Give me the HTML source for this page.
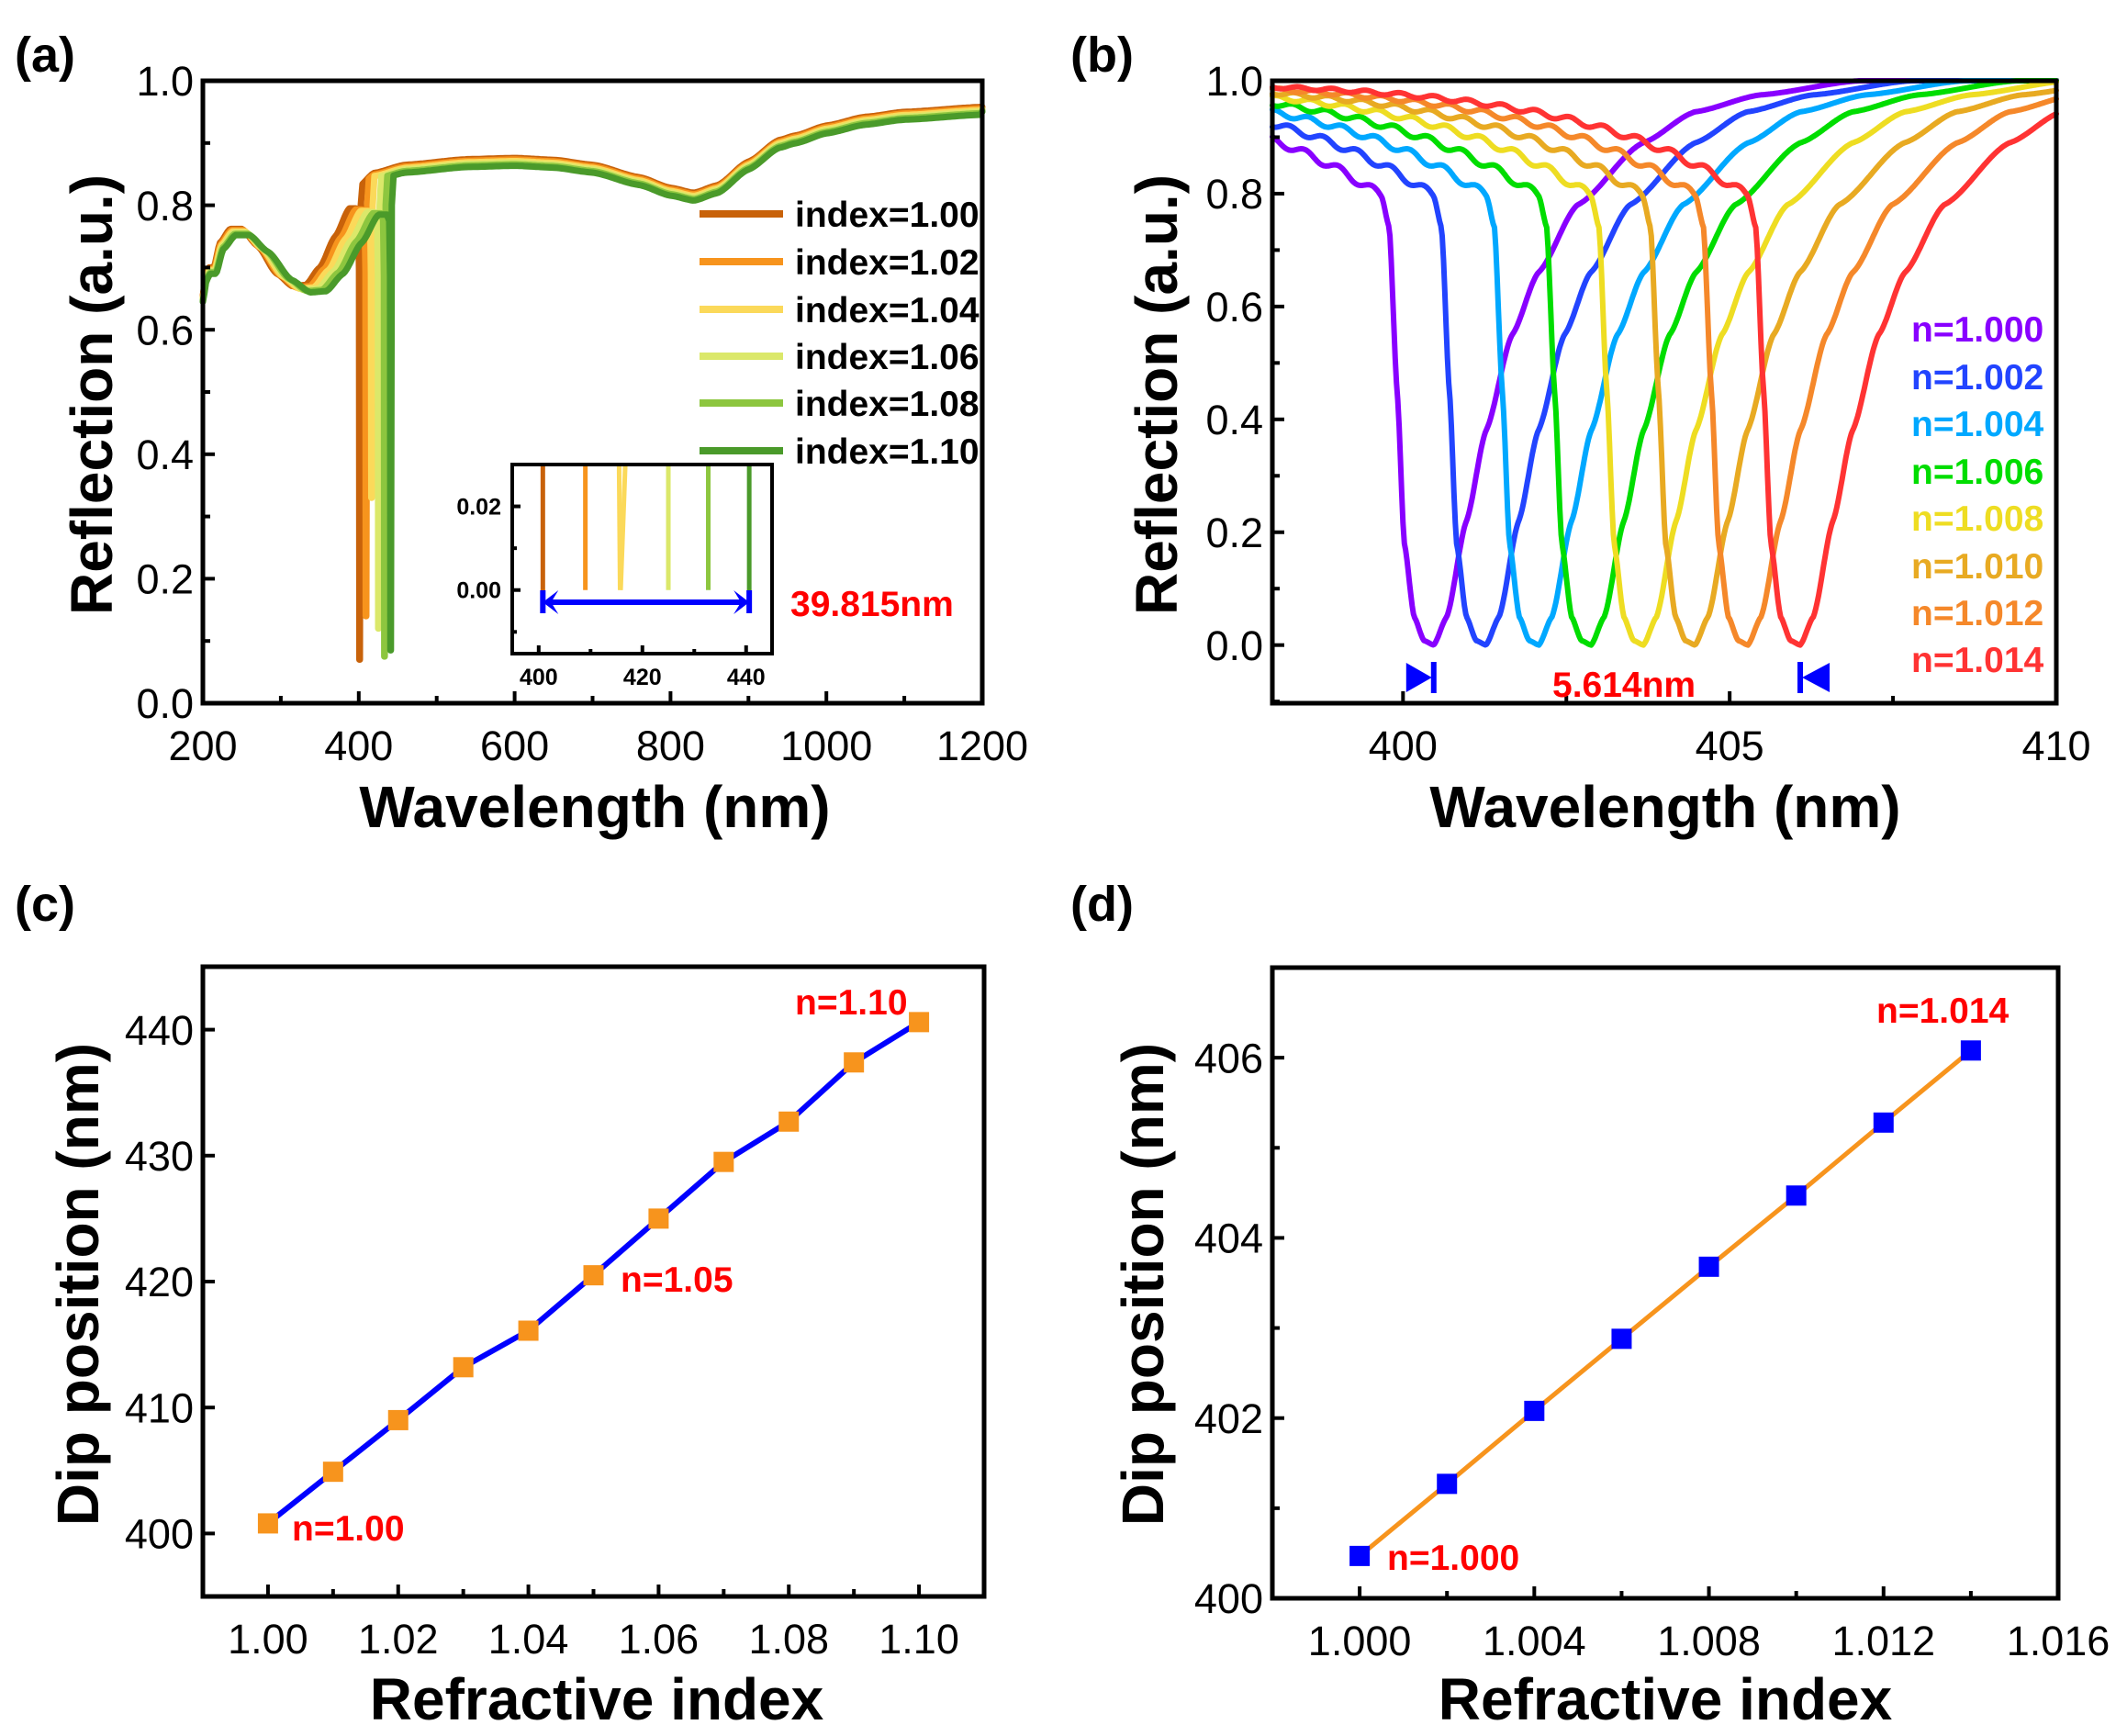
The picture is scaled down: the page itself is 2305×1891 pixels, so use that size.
<!DOCTYPE html>
<html><head><meta charset="utf-8">
<style>
html,body{margin:0;padding:0;background:#fff;}
svg{display:block;}
text{font-family:"Liberation Sans",Arial,sans-serif;}
</style></head>
<body>
<svg id="s" width="2305" height="1891" viewBox="0 0 2305 1891" xmlns="http://www.w3.org/2000/svg"></svg>
<script>
const S=document.getElementById('s');
let out='';
function add(t){out+=t;}
function lerpPts(pts,x){
  if(x<=pts[0][0])return pts[0][1];
  for(let i=1;i<pts.length;i++){if(x<=pts[i][0]){const a=pts[i-1],b=pts[i];const t=(x-a[0])/(b[0]-a[0]);const s=t*t*(3-2*t);return a[1]+(b[1]-a[1])*(0.5*t+0.5*s);}}
  return pts[pts.length-1][1];
}
function mk(px0,px1,py0,py1,xr,yr){
  return {X:v=>px0+(v-xr[0])/(xr[1]-xr[0])*(px1-px0),Y:v=>py1-(v-yr[0])/(yr[1]-yr[0])*(py1-py0),px0,px1,py0,py1};
}
function frame(A,xmaj,xmin,ymaj,ymin,fs,xlOff,ylOff,lw,bold,tl,ml){
  tl=tl||13;ml=ml||8;
  let t='';
  xmaj.forEach(v=>{const x=A.X(v[0]);t+=`<line x1="${x}" y1="${A.py1}" x2="${x}" y2="${A.py1-tl}" stroke="#000" stroke-width="4"/>`;
    t+=`<text x="${x}" y="${A.py1+xlOff}" font-size="${fs}" text-anchor="middle" ${bold?'font-weight="bold"':''}>${v[1]}</text>`;});
  xmin.forEach(v=>{const x=A.X(v);t+=`<line x1="${x}" y1="${A.py1}" x2="${x}" y2="${A.py1-ml}" stroke="#000" stroke-width="4"/>`;});
  ymaj.forEach(v=>{const y=A.Y(v[0]);t+=`<line x1="${A.px0}" y1="${y}" x2="${A.px0+tl}" y2="${y}" stroke="#000" stroke-width="4"/>`;
    t+=`<text x="${A.px0-ylOff}" y="${y+fs*0.36}" font-size="${fs}" text-anchor="end" ${bold?'font-weight="bold"':''}>${v[1]}</text>`;});
  ymin.forEach(v=>{const y=A.Y(v);t+=`<line x1="${A.px0}" y1="${y}" x2="${A.px0+ml}" y2="${y}" stroke="#000" stroke-width="4"/>`;});
  t+=`<rect x="${A.px0}" y="${A.py0}" width="${A.px1-A.px0}" height="${A.py1-A.py0}" fill="none" stroke="#000" stroke-width="${lw}"/>`;
  return t;
}
function path(A,pts,col,w){
  let d='';pts.forEach((p,i)=>{d+=(i?'L':'M')+A.X(p[0]).toFixed(1)+' '+A.Y(p[1]).toFixed(1);});
  return `<path d="${d}" fill="none" stroke="${col}" stroke-width="${w}" stroke-linejoin="round" stroke-linecap="round"/>`;
}
function lab(x,y,s){return `<text x="${x}" y="${y}" font-size="54" font-weight="bold">${s}</text>`;}

/* ---------- (a) ---------- */
const A=mk(221,1070,88,766,[200,1200],[0,1]);
const aCols=['#c8620a','#f7941d','#fbd95a','#dbe86a','#8dc63f','#4a9a2a'];
const aDips=[400.8,409,416.1,425,432.7,440.6];
const aBot=[0.07,0.14,0.33,0.12,0.075,0.085];
const pre=[[200,0.655],[204,0.69],[208,0.70],[214,0.70],[222,0.74],[235,0.762],[250,0.762],[270,0.735],[295,0.69],[315,0.67],[332,0.672],[350,0.70],[370,0.75],[388,0.795]];
const post=[[0,0.83],[20,0.852],[60,0.865],[140,0.874],[200,0.876],[250,0.873],[300,0.865],[360,0.845],[400,0.828],[430,0.82],[460,0.832],[500,0.87],[540,0.905],[560,0.912],[600,0.928],[650,0.942],[700,0.95],[800,0.958]];
let aPaths='';
for(let k=0;k<=5;k++){
  const D=aDips[k],sh=0.6*(D-400.8);
  const pts=[];
  for(let x=200;x<=D-4;x+=2){
    const xx=200+(x-200)/(1+sh/120);
    pts.push([x,lerpPts(pre,xx)-0.002*k]);
  }
  const pk=pts[pts.length-1][1];
  pts.push([D-1.5,pk-0.01]);pts.push([D-0.4,pk-0.1]);pts.push([D,aBot[k]]);
  pts.push([D+0.6,aBot[k]]);pts.push([D+1.8,0.8]);
  for(let x=D+4;x<=1200;x+=3){
    const u=x-400;pts.push([x,lerpPts(post,u)-0.0025*k]);
  }
  pts.push([1200,0.958-0.0015*k]);
  aPaths+=path(A,pts,aCols[k],7);
}
add(aPaths);
add(frame(A,[[200,'200'],[400,'400'],[600,'600'],[800,'800'],[1000,'1000'],[1200,'1200']],[300,500,700,900,1100],
 [[0,'0.0'],[0.2,'0.2'],[0.4,'0.4'],[0.6,'0.6'],[0.8,'0.8'],[1.0,'1.0']],[0.1,0.3,0.5,0.7,0.9],45,62,10,5,false));
const aLeg=['index=1.00','index=1.02','index=1.04','index=1.06','index=1.08','index=1.10'];
const aLy=[233,285,337,388,439,491];
aLeg.forEach((s,i)=>{add(`<line x1="762" y1="${aLy[i]}" x2="853" y2="${aLy[i]}" stroke="${aCols[i]}" stroke-width="8"/>`);
 add(`<text x="866" y="${aLy[i]+14}" font-size="39" font-weight="bold">${s}</text>`);});
// inset
const I=mk(558,841,506,712,[394.9,445],[-0.0152,0.03]);
add(`<rect x="558" y="506" width="283" height="206" fill="#fff"/>`);
aDips.forEach((D,k)=>{
  if(k==2){add(`<line x1="${I.X(D-0.6)}" y1="${I.Y(0.03)}" x2="${I.X(D-0.4)}" y2="${I.Y(0)}" stroke="${aCols[k]}" stroke-width="5"/>`);
    add(`<line x1="${I.X(D+0.6)}" y1="${I.Y(0.03)}" x2="${I.X(D-0.3)}" y2="${I.Y(0)}" stroke="${aCols[k]}" stroke-width="5"/>`);}
  else add(`<line x1="${I.X(D)}" y1="${I.Y(0.03)}" x2="${I.X(D)}" y2="${I.Y(k==0||k==5?-0.003:0)}" stroke="${aCols[k]}" stroke-width="5"/>`);
});
add(`<line x1="${I.X(401.5)}" y1="656" x2="${I.X(439.5)}" y2="656" stroke="#0000ff" stroke-width="6"/>`);
add(`<line x1="${I.X(400.8)}" y1="643" x2="${I.X(400.8)}" y2="668" stroke="#0000ff" stroke-width="6"/>`);
add(`<line x1="${I.X(440.6)}" y1="643" x2="${I.X(440.6)}" y2="668" stroke="#0000ff" stroke-width="6"/>`);
add(`<polygon points="${I.X(400.8)},656 ${I.X(403.8)},643 ${I.X(402.4)},656 ${I.X(403.8)},669" fill="#0000ff"/>`);
add(`<polygon points="${I.X(440.6)},656 ${I.X(437.6)},643 ${I.X(439)},656 ${I.X(437.6)},669" fill="#0000ff"/>`);
add(frame(I,[[400,'400'],[420,'420'],[440,'440']],[410,430],[[0,'0.00'],[0.02,'0.02']],[-0.01,0.01],25,34,12,4,true,9,5));
add(`<text x="861" y="671" font-size="39" font-weight="bold" fill="#ff0000">39.815nm</text>`);
add(`<text x="648" y="901" font-size="64" font-weight="bold" text-anchor="middle">Wavelength (nm)</text>`);
add(`<text transform="translate(122,430) rotate(-90)" font-size="64" font-weight="bold" text-anchor="middle">Reflection (a.u.)</text>`);
add(lab(16,78,'(a)'));

/* ---------- (b) ---------- */
const B=mk(1386,2240,88,766,[398,410],[-0.103,1.0]);
const bCols=['#8800ff','#2244ff','#00a8ff','#00dd00','#eedd22','#e8aa22','#f5882a','#ff3333'];
const bDips=[400.47,401.27,402.08,402.88,403.68,404.47,405.28,406.08];
const drop=[[-0.8,0.795],[-0.68,0.74],[-0.56,0.45],[-0.45,0.18],[-0.3,0.05],[-0.15,0.008],[0,0]];
const rise=[[0,0],[0.2,0.05],[0.5,0.22],[0.8,0.38],[1.2,0.55],[1.6,0.66],[2.2,0.78],[3.2,0.89],[4,0.945],[5,0.975],[6.5,1.0],[20,1.0]];
let bP='';
bDips.forEach((D,k)=>{
  const pts=[];
  for(let x=398;x<=410.001;x+=0.02){
    const d=x-D;let y;
    if(d<-0.8){y=1-0.205*Math.exp((d+0.8)/2.5);y-=0.008*Math.sin(2*Math.PI*(d+0.8)/0.52)*Math.exp((d+0.8)/6);}
    else if(d<=0)y=lerpPts(drop,d);
    else y=lerpPts(rise,d);
    pts.push([x,Math.min(y,1.0)]);
  }
  bP+=path(B,pts,bCols[k],6);
});
add(bP);
add(frame(B,[[400,'400'],[405,'405'],[410,'410']],[402.5,407.5],[[0,'0.0'],[0.2,'0.2'],[0.4,'0.4'],[0.6,'0.6'],[0.8,'0.8'],[1.0,'1.0']],[0.1,0.3,0.5,0.7,0.9,-0.1],45,62,10,5,false));
const bLeg=['n=1.000','n=1.002','n=1.004','n=1.006','n=1.008','n=1.010','n=1.012','n=1.014'];
const bLy=[358,410,461,513,564,616,667,718];
bLeg.forEach((s,i)=>add(`<text x="2082" y="${bLy[i]+14}" font-size="39" font-weight="bold" fill="${bCols[i]}">${s}</text>`));
{const x1=B.X(400.47),x2=B.X(406.08);
 add(`<line x1="${x1}" y1="721" x2="${x1}" y2="755" stroke="#0000ff" stroke-width="6"/>`);
 add(`<polygon points="${x1-2},738 ${x1-30},722 ${x1-30},754" fill="#0000ff"/>`);
 add(`<line x1="${x2}" y1="721" x2="${x2}" y2="755" stroke="#0000ff" stroke-width="6"/>`);
 add(`<polygon points="${x2+2},738 ${x2+32},722 ${x2+32},754" fill="#0000ff"/>`);}
add(`<text x="1691" y="759" font-size="39" font-weight="bold" fill="#ff0000">5.614nm</text>`);
add(`<text x="1814" y="901" font-size="64" font-weight="bold" text-anchor="middle">Wavelength (nm)</text>`);
add(`<text transform="translate(1282,430) rotate(-90)" font-size="64" font-weight="bold" text-anchor="middle">Reflection (a.u.)</text>`);
add(lab(1166,78,'(b)'));

/* ---------- (c) ---------- */
const C=mk(221,1072,1053,1739,[0.99,1.11],[395,445]);
const cD=[[1.00,400.8],[1.01,404.9],[1.02,409],[1.03,413.2],[1.04,416.1],[1.05,420.5],[1.06,425],[1.07,429.5],[1.08,432.7],[1.09,437.4],[1.10,440.6]];
add(path(C,cD,'#0000ff',6));
cD.forEach(p=>add(`<rect x="${C.X(p[0])-11}" y="${C.Y(p[1])-11}" width="22" height="22" fill="#f7941d"/>`));
add(frame(C,[[1.00,'1.00'],[1.02,'1.02'],[1.04,'1.04'],[1.06,'1.06'],[1.08,'1.08'],[1.10,'1.10']],[1.01,1.03,1.05,1.07,1.09],
 [[400,'400'],[410,'410'],[420,'420'],[430,'430'],[440,'440']],[],45,62,10,5,false));
add(`<text x="866" y="1105" font-size="39" font-weight="bold" fill="#ff0000">n=1.10</text>`);
add(`<text x="676" y="1407" font-size="39" font-weight="bold" fill="#ff0000">n=1.05</text>`);
add(`<text x="318" y="1678" font-size="39" font-weight="bold" fill="#ff0000">n=1.00</text>`);
add(`<text x="650" y="1873" font-size="64" font-weight="bold" text-anchor="middle">Refractive index</text>`);
add(`<text transform="translate(107,1399) rotate(-90)" font-size="64" font-weight="bold" text-anchor="middle">Dip position (nm)</text>`);
add(lab(16,1003,'(c)'));

/* ---------- (d) ---------- */
const Dd=mk(1386,2242,1054,1741,[0.998,1.016],[400,407]);
const dD=[[1.000,400.47],[1.002,401.27],[1.004,402.08],[1.006,402.88],[1.008,403.68],[1.010,404.47],[1.012,405.28],[1.014,406.08]];
add(path(Dd,dD,'#f7941d',5));
dD.forEach(p=>add(`<rect x="${Dd.X(p[0])-11}" y="${Dd.Y(p[1])-11}" width="22" height="22" fill="#0000ff"/>`));
add(frame(Dd,[[1.000,'1.000'],[1.004,'1.004'],[1.008,'1.008'],[1.012,'1.012'],[1.016,'1.016']],[1.002,1.006,1.010,1.014],
 [[400,'400'],[402,'402'],[404,'404'],[406,'406']],[401,403,405],45,62,10,5,false));
add(`<text x="2044" y="1114" font-size="39" font-weight="bold" fill="#ff0000">n=1.014</text>`);
add(`<text x="1511" y="1710" font-size="39" font-weight="bold" fill="#ff0000">n=1.000</text>`);
add(`<text x="1814" y="1873" font-size="64" font-weight="bold" text-anchor="middle">Refractive index</text>`);
add(`<text transform="translate(1267,1399) rotate(-90)" font-size="64" font-weight="bold" text-anchor="middle">Dip position (nm)</text>`);
add(lab(1166,1003,'(d)'));

S.innerHTML=out;
</script>
</body></html>
